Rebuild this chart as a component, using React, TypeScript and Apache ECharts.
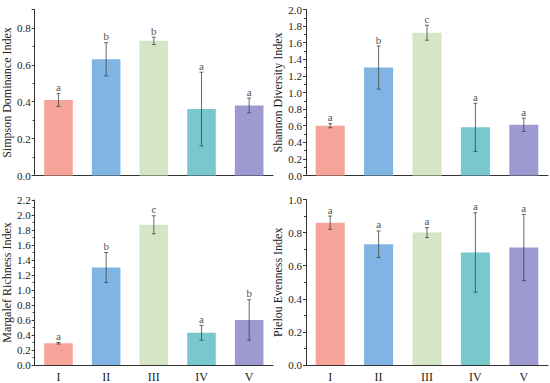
import React, { useEffect, useRef } from "react";
import * as echarts from "echarts";

const categories = ["I", "II", "III", "IV", "V"];
const barColors = ["#f6a39a", "#80b4e2", "#d4e6c5", "#78c8cd", "#9c9ad0"];

const simpsonMean = [0.41, 0.63, 0.73, 0.36, 0.38];
const simpsonErr = [0.035, 0.09, 0.02, 0.2, 0.04];
const simpsonLetters = ["a", "b", "b", "a", "a"];

const shannonMean = [0.6, 1.3, 1.72, 0.58, 0.61];
const shannonErr = [0.025, 0.26, 0.09, 0.29, 0.08];
const shannonLetters = ["a", "b", "c", "a", "a"];

const margalefMean = [0.29, 1.3, 1.87, 0.43, 0.6];
const margalefErr = [0.01, 0.2, 0.12, 0.1, 0.27];
const margalefLetters = ["a", "b", "c", "a", "b"];

const pielouMean = [0.86, 0.73, 0.8, 0.68, 0.71];
const pielouErr = [0.04, 0.08, 0.03, 0.24, 0.2];
const pielouLetters = ["a", "a", "a", "a", "a"];

const FONT = "Liberation Serif";

type Panel = {
  name: string;
  mean: number[];
  err: number[];
  letters: string[];
  max: number;
  grid: { left: number; top: number; width: number; height: number };
  showX: boolean;
};

const panels: Panel[] = [
  { name: "Simpson Dominance Index", mean: simpsonMean, err: simpsonErr, letters: simpsonLetters, max: 0.9,
    grid: { left: 33, top: 9.5, width: 240, height: 166 }, showX: false },
  { name: "Shannon Diversity Index", mean: shannonMean, err: shannonErr, letters: shannonLetters, max: 2.0,
    grid: { left: 306, top: 9.5, width: 242, height: 166 }, showX: false },
  { name: "Margalef Richness Index", mean: margalefMean, err: margalefErr, letters: margalefLetters, max: 2.2,
    grid: { left: 33, top: 200, width: 240, height: 166 }, showX: true },
  { name: "Pielou Evenness Index", mean: pielouMean, err: pielouErr, letters: pielouLetters, max: 1.0,
    grid: { left: 306, top: 199.5, width: 242, height: 166.5 }, showX: true },
];

export default function App() {
  const ref = useRef<HTMLDivElement>(null);
  useEffect(() => {
    if (!ref.current) return;
    const chart = echarts.init(ref.current, null, { renderer: "svg" });
    const grids: any[] = [];
    const xAxes: any[] = [];
    const yAxes: any[] = [];
    const series: any[] = [];
    panels.forEach((p, gi) => {
      grids.push({ ...p.grid, containLabel: false });
      xAxes.push({
        type: "category",
        gridIndex: gi,
        data: categories,
        axisLine: { lineStyle: { color: "#333", width: 1 } },
        axisTick: { show: false },
        axisLabel: { show: p.showX, color: "#222", fontFamily: FONT, fontSize: 12, margin: 6 },
      });
      const oddMax = Math.abs(p.max / 0.2 - Math.round(p.max / 0.2)) > 1e-6;
      yAxes.push({
        type: "value",
        gridIndex: gi,
        min: 0,
        max: p.max,
        interval: 0.2,
        name: p.name,
        nameLocation: "middle",
        nameGap: 20,
        nameTextStyle: { color: "#222", fontFamily: FONT, fontSize: 12 },
        axisLine: { show: true, lineStyle: { color: "#333", width: 1 } },
        axisTick: { show: true, inside: false, length: 3, lineStyle: { color: "#333" } },
        minorTick: { show: true, splitNumber: 2, length: 2, lineStyle: { color: "#333" } },
        splitLine: { show: false },
        axisLabel: {
          color: "#222",
          fontFamily: FONT,
          fontSize: 11,
          margin: 4,
          showMaxLabel: !oddMax,
          formatter: (v: number) => v.toFixed(1),
        },
      });
      series.push({
        type: "bar",
        xAxisIndex: gi,
        yAxisIndex: gi,
        barWidth: "60%",
        data: p.mean.map((v, i) => ({ value: v, itemStyle: { color: barColors[i] } })),
      });
      const letters = p.letters;
      series.push({
        type: "custom",
        xAxisIndex: gi,
        yAxisIndex: gi,
        z: 5,
        encode: { x: 0, y: [1, 2] },
        data: p.mean.map((v, i) => [i, v - p.err[i], v + p.err[i]]),
        renderItem: (params: any, api: any) => {
          const x = api.value(0);
          const lo = api.coord([x, api.value(1)]);
          const hi = api.coord([x, api.value(2)]);
          const cap = 2;
          const style = { stroke: "#444", lineWidth: 0.8 };
          return {
            type: "group",
            children: [
              { type: "line", shape: { x1: hi[0], y1: hi[1], x2: lo[0], y2: lo[1] }, style },
              { type: "line", shape: { x1: hi[0] - cap, y1: hi[1], x2: hi[0] + cap, y2: hi[1] }, style },
              { type: "line", shape: { x1: lo[0] - cap, y1: lo[1], x2: lo[0] + cap, y2: lo[1] }, style },
              {
                type: "text",
                x: hi[0],
                y: hi[1] - 1,
                style: {
                  text: letters[params.dataIndex],
                  fill: "#555",
                  fontFamily: FONT,
                  fontSize: 11,
                  align: "center",
                  verticalAlign: "bottom",
                },
              },
            ],
          };
        },
      });
    });
    chart.setOption({
      animation: false,
      backgroundColor: "#fff",
      grid: grids,
      xAxis: xAxes,
      yAxis: yAxes,
      series,
    });
    return () => chart.dispose();
  }, []);
  return <div ref={ref} style={{ width: 550, height: 383, position: "absolute", left: 0, top: 0 }} />;
}
